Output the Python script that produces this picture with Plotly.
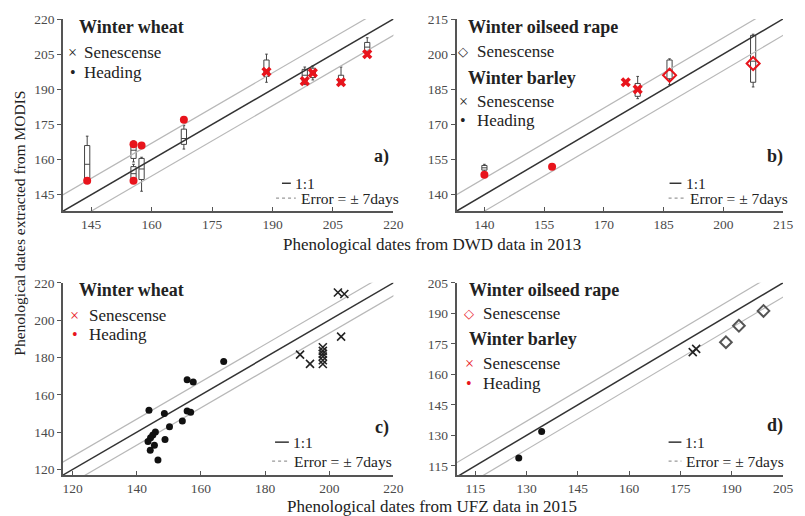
import plotly.graph_objects as go

# ---------------- data ----------------
# Panel a: DWD 2013, winter wheat
a_head_x = [144, 155.5, 155.5, 157.5, 168]
a_head_y = [151, 166.5, 151, 166, 177]
a_sen_x = [188.5, 198, 200, 207, 213.5]
a_sen_y = [197.5, 193.5, 197, 193, 205]
a_box_x = [144, 155.5, 155.5, 157.5, 168, 188.5, 198, 200, 207, 213.5]
a_box_lo = [151, 159, 150, 146.5, 164.5, 193, 192, 194, 192, 205]
a_box_q1 = [152, 160.5, 151.5, 151.5, 166.5, 195.5, 193.5, 195, 192.5, 206]
a_box_med = [158, 164, 154, 156, 169, 198, 196, 197, 194, 208]
a_box_q3 = [166, 167, 157, 160.5, 173, 202.5, 198.5, 199, 196, 210]
a_box_hi = [170, 168, 158, 161, 174.5, 205, 199.5, 200, 199.5, 212]

# Panel b: DWD 2013, winter barley / winter oilseed rape
b_head_x = [140, 157]
b_head_y = [148.5, 152]
b_bsen_x = [175.5, 178.5]
b_bsen_y = [188, 185]
b_rsen_x = [186.5, 207.5]
b_rsen_y = [191, 196]
b_box_x = [140, 178.5, 186.5, 207.5]
b_box_lo = [150, 181, 187, 186]
b_box_q1 = [150.5, 182, 189.5, 188]
b_box_med = [151.5, 185, 193, 197]
b_box_q3 = [152.5, 187.5, 197.5, 208]
b_box_hi = [153, 190.5, 198, 208.5]

# Panel c: UFZ 2015, winter wheat
c_head_x = [143.8, 148.6, 145.8, 145, 144.3, 143.5, 145.5, 144.2, 148.8, 146.6,
            150.2, 154.2, 155.7, 157.6, 155.7, 156.8, 167.1]
c_head_y = [151.7, 149.9, 140.1, 138.4, 137, 135, 133, 130.3, 136, 125,
            142.8, 146, 168, 166.8, 151.3, 150.6, 177.8]
c_sen_x = [202.7, 204.7, 203.7, 190.9, 194, 198, 198, 198, 198, 198, 198]
c_sen_y = [214.8, 214, 191.2, 181.5, 176.6, 185.5, 183.5, 182, 180.5, 178.5, 176.5]

# Panel d: UFZ 2015, winter barley / winter oilseed rape
d_head_x = [127.7, 134.4]
d_head_y = [118.9, 131.9]
d_bsen_x = [178.6, 179.6]
d_bsen_y = [170.9, 172.5]
d_rsen_x = [188.3, 192.1, 199.3]
d_rsen_y = [175.8, 183.9, 191.2]

# axis limits and ticks
lims = {"a": [138, 220], "b": [133, 215], "c": [117, 220], "d": [109.5, 205]}
ylims = {"a": [138, 220], "b": [133, 215], "c": [117, 220], "d": [110.5, 205]}
ticks = {"a": [145, 160, 175, 190, 205, 220],
         "b": [140, 155, 170, 185, 200, 215],
         "c": [120, 140, 160, 180, 200, 220],
         "d": [115, 130, 145, 160, 175, 190, 205]}
error_days = 7

# ---------------- layout helpers ----------------
W, H = 805, 516
ML, MR, MT, MB = 63, 12, 17, 41
PW, PH = W - ML - MR, H - MT - MB
FONT = "Liberation Serif, Times New Roman, serif"
RED = "#e8141c"
TXT = "#222222"


def px(x):
    return (x - ML) / PW


def py(y):
    return (H - MB - y) / PH


fig = go.Figure()
axmap = {"a": ("x", "y"), "b": ("x2", "y2"), "c": ("x3", "y3"), "d": ("x4", "y4")}

# reference lines
for k, (xa, ya) in axmap.items():
    lo, hi = lims[k][0] - 20, lims[k][1] + 20
    xs = [lo, hi]
    for off in (error_days, -error_days):
        fig.add_trace(go.Scatter(x=xs, y=[v + off for v in xs], mode="lines",
                                 line=dict(color="#b8b8b8", width=1.2),
                                 xaxis=xa, yaxis=ya, hoverinfo="skip", showlegend=False))
    fig.add_trace(go.Scatter(x=xs, y=xs, mode="lines",
                             line=dict(color="#333333", width=1.5),
                             xaxis=xa, yaxis=ya, hoverinfo="skip", showlegend=False))


def boxes(xs, lo, q1, med, q3, hi, xa, ya, w):
    fig.add_trace(go.Box(x=xs, lowerfence=lo, q1=q1, median=med, q3=q3, upperfence=hi,
                         orientation="v", width=w, fillcolor="white",
                         line=dict(color="#444444", width=1), whiskerwidth=0.5,
                         boxpoints=False, xaxis=xa, yaxis=ya, showlegend=False,
                         hoverinfo="skip"))


def pts(xs, ys, xa, ya, symbol, color, size, lw=0, lc=None):
    fig.add_trace(go.Scatter(x=xs, y=ys, mode="markers",
                             marker=dict(symbol=symbol, color=color, size=size,
                                         line=dict(width=lw, color=lc or color)),
                             xaxis=xa, yaxis=ya, showlegend=False, hoverinfo="skip",
                             cliponaxis=False))


# panel a
boxes(a_box_x, a_box_lo, a_box_q1, a_box_med, a_box_q3, a_box_hi, "x", "y", 1.3)
pts(a_head_x, a_head_y, "x", "y", "circle", RED, 8)
pts(a_sen_x, a_sen_y, "x", "y", "x", RED, 9)

# panel b
boxes(b_box_x, b_box_lo, b_box_q1, b_box_med, b_box_q3, b_box_hi, "x2", "y2", 1.3)
pts(b_head_x, b_head_y, "x2", "y2", "circle", RED, 8)
pts(b_bsen_x, b_bsen_y, "x2", "y2", "x", RED, 9)
pts(b_rsen_x, b_rsen_y, "x2", "y2", "diamond-open", RED, 10, 2)

# panel c
pts(c_head_x, c_head_y, "x3", "y3", "circle", "#111111", 7)
pts(c_sen_x, c_sen_y, "x3", "y3", "x-thin-open", "#222222", 8, 1.6)

# panel d
pts(d_head_x, d_head_y, "x4", "y4", "circle", "#111111", 7)
pts(d_bsen_x, d_bsen_y, "x4", "y4", "x-thin-open", "#222222", 8, 1.6)
pts(d_rsen_x, d_rsen_y, "x4", "y4", "diamond-open", "#555555", 9, 2)

# axes
xdom_l = [0, px(398)]
xdom_r = [px(462), 1]
ydom_t = [py(210), 1]
ydom_b = [0, py(282)]
axstyle = dict(showline=True, linecolor="#555555", linewidth=1.5, showgrid=False,
               zeroline=False, tickfont=dict(family=FONT, size=13.5, color="#4a4a4a"),
               tickcolor="#555555", ticklen=4, fixedrange=True)
layout = {}
doms = {"a": (xdom_l, ydom_t), "b": (xdom_r, ydom_t), "c": (xdom_l, ydom_b), "d": (xdom_r, ydom_b)}
for i, k in enumerate(["a", "b", "c", "d"]):
    sx = "" if i == 0 else str(i + 1)
    xd, yd = doms[k]
    layout["xaxis" + sx] = dict(axstyle, domain=xd, range=lims[k], tickvals=ticks[k],
                                anchor="y" + sx, ticks="inside")
    layout["yaxis" + sx] = dict(axstyle, domain=yd, range=ylims[k], tickvals=ticks[k],
                                anchor="x" + sx, ticks="outside")
fig.update_layout(**layout)

ann = []
shapes = []


def text(t, x, y, size=17, bold=False, xanchor="left", color=TXT):
    if bold:
        t = "<b>" + t + "</b>"
    ann.append(dict(text=t, x=px(x), y=py(y), xref="paper", yref="paper",
                    xanchor=xanchor, yanchor="middle", showarrow=False,
                    font=dict(family=FONT, size=size, color=color)))


def item(sym, label, xm, xt, y, sym_color=TXT, sym_size=16):
    text(sym, xm, y, size=sym_size, xanchor="center", color=sym_color)
    text(label, xt, y, size=17)


# legends
text("Winter wheat", 77, 25, 18, True)
item("×", "Senescense", 73, 82, 51)
item("•", "Heading", 73, 82, 70.5)

text("Winter oilseed rape", 472, 25, 18, True)
item("◇", "Senescense", 469, 481, 50, sym_size=13)
text("Winter barley", 472, 76, 18, True)
item("×", "Senescense", 469, 481, 99.5)
item("•", "Heading", 469, 481, 119)

text("Winter wheat", 77, 289, 18, True)
item("×", "Senescense", 75, 87, 314.5, RED)
item("•", "Heading", 75, 87, 334, RED)

text("Winter oilseed rape", 473, 289, 18, True)
item("◇", "Senescense", 475, 487, 313, RED, 13)
text("Winter barley", 473, 338, 18, True)
item("×", "Senescense", 475, 487, 363, RED)
item("•", "Heading", 475, 487, 383, RED)

# 1:1 / error legends and panel labels
for (x1a, x1b, t1x, y1, xea, xeb, tex, ye, lab, labx, laby) in [
        (285, 294, 296, 182, 279, 299, 302, 197, "a)", 396, 155),
        (678, 690, 693, 182, 677, 693, 697, 197, "b)", 795, 155),
        (278, 292, 294, 442, 275, 292, 295, 461, "c)", 396, 427),
        (677, 690, 692, 442, 677, 690, 693, 461, "d)", 795, 425)]:
    shapes.append(dict(type="line", xref="paper", yref="paper", x0=px(x1a), x1=px(x1b),
                       y0=py(y1), y1=py(y1), line=dict(color="#333333", width=1.5)))
    shapes.append(dict(type="line", xref="paper", yref="paper", x0=px(xea), x1=px(xeb),
                       y0=py(ye), y1=py(ye), line=dict(color="#999999", width=1.2, dash="dot")))
    text("1:1", t1x, y1, 15.5)
    text("Error = ± 7days", tex, ye, 15.5)
    text(lab, labx, laby, 18, True, xanchor="right")

# axis titles
text("Phenological dates from DWD data in 2013", 437, 243, 17, xanchor="center")
text("Phenological dates from UFZ data in 2015", 437, 507, 17, xanchor="center")
ann.append(dict(text="Phenological dates extracted from MODIS", x=px(18), y=py(222),
                xref="paper", yref="paper", xanchor="center", yanchor="middle",
                textangle=-90, showarrow=False, font=dict(family=FONT, size=15.5, color=TXT)))

fig.update_layout(width=W, height=H, margin=dict(l=ML, r=MR, t=MT, b=MB),
                  paper_bgcolor="white", plot_bgcolor="white", showlegend=False,
                  annotations=ann, shapes=shapes, boxmode="overlay",
                  font=dict(family=FONT))
fig.write_html("out.html", config={"displayModeBar": False},
               post_script="document.body.style.margin='0';"
                           "document.body.style.overflow='hidden';")
